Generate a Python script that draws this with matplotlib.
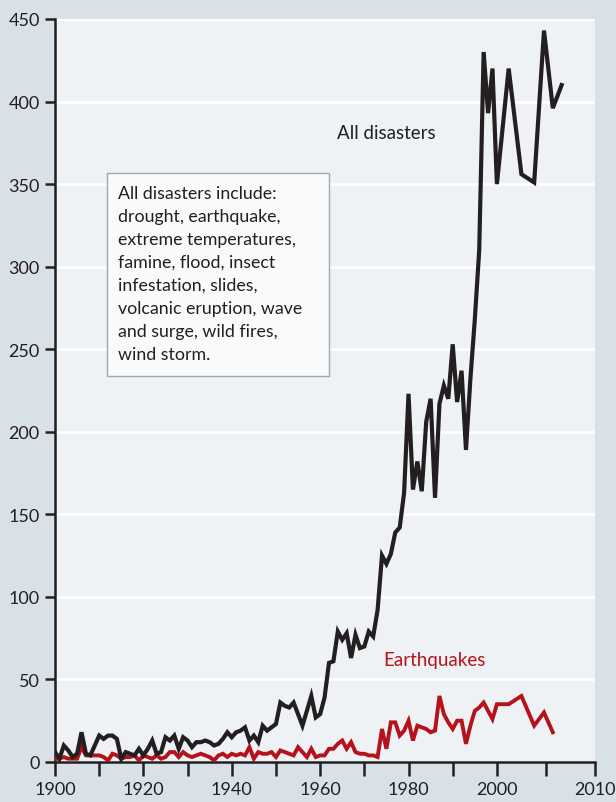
import numpy as np
import matplotlib
matplotlib.use("Agg")
from matplotlib import pyplot as plt
from matplotlib.patches import Rectangle

# annual counts 1900-2000, then a few later points
years_annual = list(range(1900, 2001))

all_disasters = [
    6, 2, 10, 7, 3, 5, 18, 5, 4, 10,          # 1900s
    16, 14, 16, 16, 14, 2, 6, 5, 4, 8,        # 1910s
    4, 8, 13, 5, 6, 15, 13, 16, 8, 15,        # 1920s
    13, 9, 12, 12, 13, 12, 10, 11, 14, 18,    # 1930s
    15, 18, 19, 21, 13, 16, 12, 22, 19, 21,   # 1940s
    23, 36, 34, 33, 36, 29, 22, 31, 40, 27,   # 1950s
    29, 39, 60, 61, 79, 74, 78, 63, 77, 69,   # 1960s
    70, 79, 76, 92, 125, 120, 126, 139, 142, 163,   # 1970s
    223, 165, 182, 164, 206, 220, 160, 217, 228, 220,  # 1980s
    253, 218, 237, 189, 232, 268, 310, 430, 393, 420,  # 1990s
    350,
]
earthquakes = [
    2, 2, 3, 2, 2, 2, 9, 4, 4, 4,
    4, 3, 1, 5, 4, 2, 3, 3, 4, 1,
    4, 3, 2, 4, 2, 3, 6, 6, 3, 6,
    4, 3, 4, 5, 4, 3, 1, 4, 5, 3,
    5, 4, 5, 4, 9, 2, 6, 5, 5, 6,
    3, 7, 6, 5, 4, 9, 6, 3, 8, 3,
    4, 4, 8, 8, 11, 13, 8, 12, 6, 5,
    5, 4, 4, 3, 20, 8, 24, 24, 16, 19,
    25, 13, 22, 21, 20, 18, 19, 40, 29, 24,
    20, 25, 25, 11, 22, 31, 33, 36, 31, 26,
    35,
]

late_years_all = [2001.2, 2002.5, 2003.8, 2004.8, 2005.7, 2006.6]
late_all = [420, 356, 351, 443, 396, 410]
late_years_eq = [2001.2, 2002.5, 2003.8, 2004.8, 2005.7]
late_eq = [35, 40, 22, 30, 18]

x_all = years_annual + late_years_all
y_all = all_disasters + late_all
x_eq = years_annual + late_years_eq
y_eq = earthquakes + late_eq

box_text = ("All disasters include:\ndrought, earthquake,\nextreme temperatures,\n"
            "famine, flood, insect\ninfestation, slides,\nvolcanic eruption, wave\n"
            "and surge, wild fires,\nwind storm.")

# the x axis is stretched after 2000 in the original chart
K = 2.22
def fwd(x):
    x = np.asarray(x, dtype=float)
    return np.where(x <= 2000, x, 2000 + (x - 2000) * K)
def inv(x):
    x = np.asarray(x, dtype=float)
    return np.where(x <= 2000, x, 2000 + (x - 2000) / K)

plt.rcParams['font.family'] = ['Lato', 'DejaVu Sans']
dark = '#231f20'
red = '#b5121b'

fig = plt.figure(figsize=(6.16, 8.03), dpi=100, facecolor='#d9e1e8')
ax = fig.add_axes([55/616, 40/803, 540/616, 743/803])
ax.set_facecolor('#eef2f5')
ax.set_xscale('function', functions=(fwd, inv))

ax.plot(x_all, y_all, color=dark, lw=3, solid_joinstyle='miter', zorder=4)
ax.plot(x_eq, y_eq, color=red, lw=2.8, solid_joinstyle='miter', zorder=3)

ax.set_xlim(1900, 2010)
ax.set_ylim(0, 450)

xt = list(range(1900, 2001, 10)) + [2005, 2010]
ax.set_xticks(xt)
ax.set_xticklabels([str(t) if t in (1900, 1920, 1940, 1960, 1980, 2000, 2010) else '' for t in xt])
ax.set_xticks([1920, 1940, 1960, 1980, 2000], minor=True)
ax.set_yticks(range(0, 451, 50))

ax.tick_params(axis='x', which='major', length=10, width=1.8, color=dark,
               labelsize=13, labelcolor=dark, pad=4)
ax.tick_params(axis='x', which='minor', length=0)
ax.tick_params(axis='y', length=7, width=1.8, color=dark,
               labelsize=13, labelcolor=dark, pad=4)

ax.grid(axis='y', color='white', lw=2)
ax.grid(axis='x', which='minor', color='white', lw=2)
ax.grid(axis='x', which='major', visible=False)
ax.set_axisbelow(True)

for s in ('top', 'right'):
    ax.spines[s].set_visible(False)
for s in ('left', 'bottom'):
    ax.spines[s].set_color(dark)
    ax.spines[s].set_linewidth(1.8)

ax.text(1963.8, 381, "All disasters", color=dark, fontsize=13.5, va='center', ha='left')
ax.text(1974.2, 62, "Earthquakes", color=red, fontsize=13.5, va='center', ha='left')

ax.add_patch(Rectangle((1911.8, 233.5), 50.2, 123.5, facecolor='#f9fafb',
                       edgecolor='#a6a6a6', lw=1, zorder=5))
ax.text(1914.3, 349.5, box_text, color=dark, fontsize=12.8, va='top', ha='left',
        linespacing=1.54, zorder=6)

fig.savefig("out.png", dpi=100, facecolor=fig.get_facecolor())
